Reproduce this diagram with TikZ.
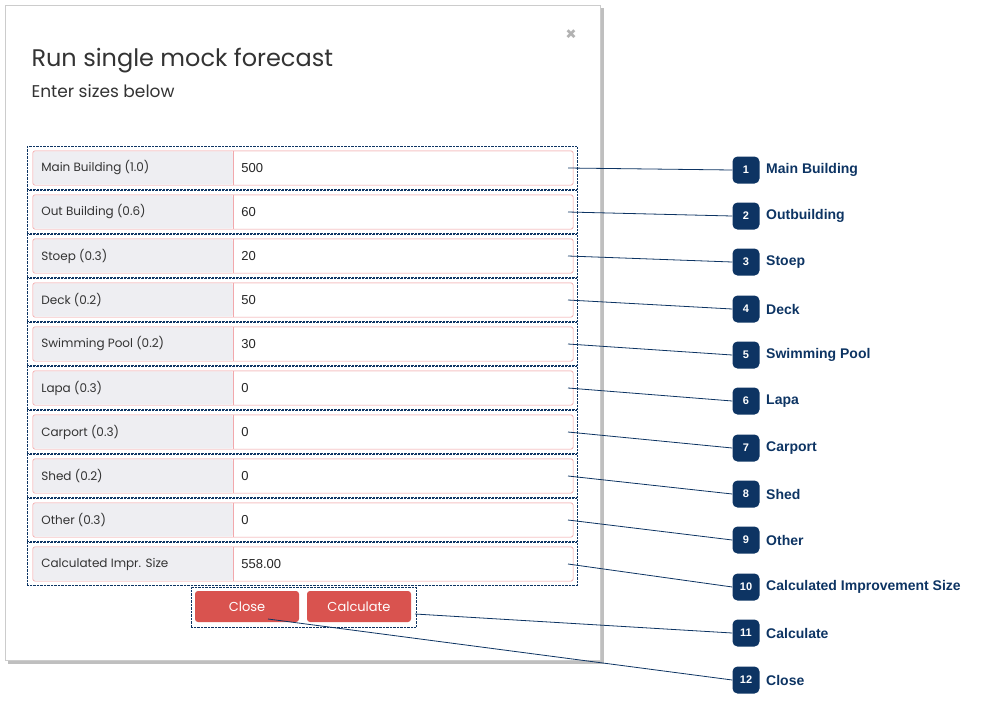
\documentclass[tikz,border=0pt]{standalone}
\usepackage{fontspec}
\setmainfont{Poppins}
\newfontfamily\calloutfont{Liberation Sans}
\usetikzlibrary{positioning,shadows}

\definecolor{navy}{HTML}{0D3463}
\definecolor{fieldred}{HTML}{F2A8AC}
\definecolor{addon}{HTML}{EEEEF2}
\definecolor{btnred}{HTML}{D9534F}

\tikzset{
  fieldbox/.style={draw=fieldred, fill=white, rounded corners=2pt, minimum width=540pt, minimum height=34pt, inner sep=0pt},
  groupbox/.style={draw=navy, densely dotted, minimum width=550pt, minimum height=43pt, inner sep=0pt},
  badge/.style={fill=navy, text=white, rounded corners=5pt, minimum size=27pt, inner sep=0pt, font=\calloutfont\bfseries\fontsize{11}{11}\selectfont},
  callout/.style={right=3pt, text=navy, font=\calloutfont\bfseries\fontsize{14}{14}\selectfont},
  leader/.style={navy, line width=0.8pt},
  button/.style={fill=btnred, text=white, rounded corners=3pt, minimum width=104pt, minimum height=31pt, font=\fontsize{13}{13}\selectfont},
}

\begin{document}
\begin{tikzpicture}[x=1pt,y=-1pt]
        \useasboundingbox (0,0) rectangle (988,705);

        % Modal panel
        \fill[black!25] (8,8) rectangle (604,664);
        \draw[black!20, fill=white] (5,5) rectangle (600,660);
        \node[text=black!30, font=\bfseries\fontsize{18}{18}\selectfont] (closex) at (571,35) {×};
        \node[anchor=base west, text=black!80, font=\fontsize{24}{24}\selectfont] (title) at (28,66) {Run single mock forecast};
        \node[anchor=base west, text=black!80, font=\fontsize{17}{17}\selectfont] (subtitle) at (28,97) {Enter sizes below};

        % Input rows
        \foreach \i/\lab/\val/\yy in {1/Main Building (1.0)/500/168, 2/Out Building (0.6)/60/212, 3/Stoep (0.3)/20/256,
            4/Deck (0.2)/50/300, 5/Swimming Pool (0.2)/30/344, 6/Lapa (0.3)/0/388, 7/Carport (0.3)/0/432,
            8/Shed (0.2)/0/476, 9/Other (0.3)/0/520, 10/Calculated Impr. Size/558.00/564} {
          \node[groupbox] (group\i) at (302,\yy) {};
          \node[fieldbox] (field\i) at (303,\yy) {};
          \fill[addon, rounded corners=2pt] ([shift={(0.6,0.6)}]field\i.north west) rectangle ([shift={(200,-0.6)}]field\i.south west);
          \draw[fieldred] ([xshift=200]field\i.north west) -- ([xshift=200]field\i.south west);
          \draw[fieldred, rounded corners=2pt] (field\i.north west) rectangle (field\i.south east);
          \node[anchor=west, text=black!80, font=\fontsize{12}{12}\selectfont] (label\i) at ([xshift=5]field\i.west) {\lab};
          \node[anchor=west, text=black!85, font=\calloutfont\fontsize{13}{13}\selectfont] (value\i) at ([xshift=205]field\i.west) {\val};
          \coordinate (tip\i) at (568,\yy);
        }

        % Buttons
        \node[draw=navy, densely dotted, minimum width=225pt, minimum height=40pt] (btngroup) at (303.5,607) {};
        \node[button] (closebtn) at (247,606.5) {Close};
        \node[button] (calcbtn) at (359,606.5) {Calculate};
        \coordinate (tip11) at (415,614);
        \coordinate (tip12) at (268,619);

        % Callouts
        \foreach \i/\txt/\yy in {1/Main Building/170, 2/Outbuilding/216, 3/Stoep/262, 4/Deck/309, 5/Swimming Pool/355,
            6/Lapa/401, 7/Carport/448, 8/Shed/494, 9/Other/540, 10/Calculated Improvement Size/587,
            11/Calculate/633, 12/Close/680} {
          \node[badge] (badge\i) at (746,\yy) {\i};
          \node[callout] (text\i) at (badge\i.east) {\txt};
          \draw[leader] (tip\i) -- (badge\i.west);
        }
      \end{tikzpicture}
\end{document}
